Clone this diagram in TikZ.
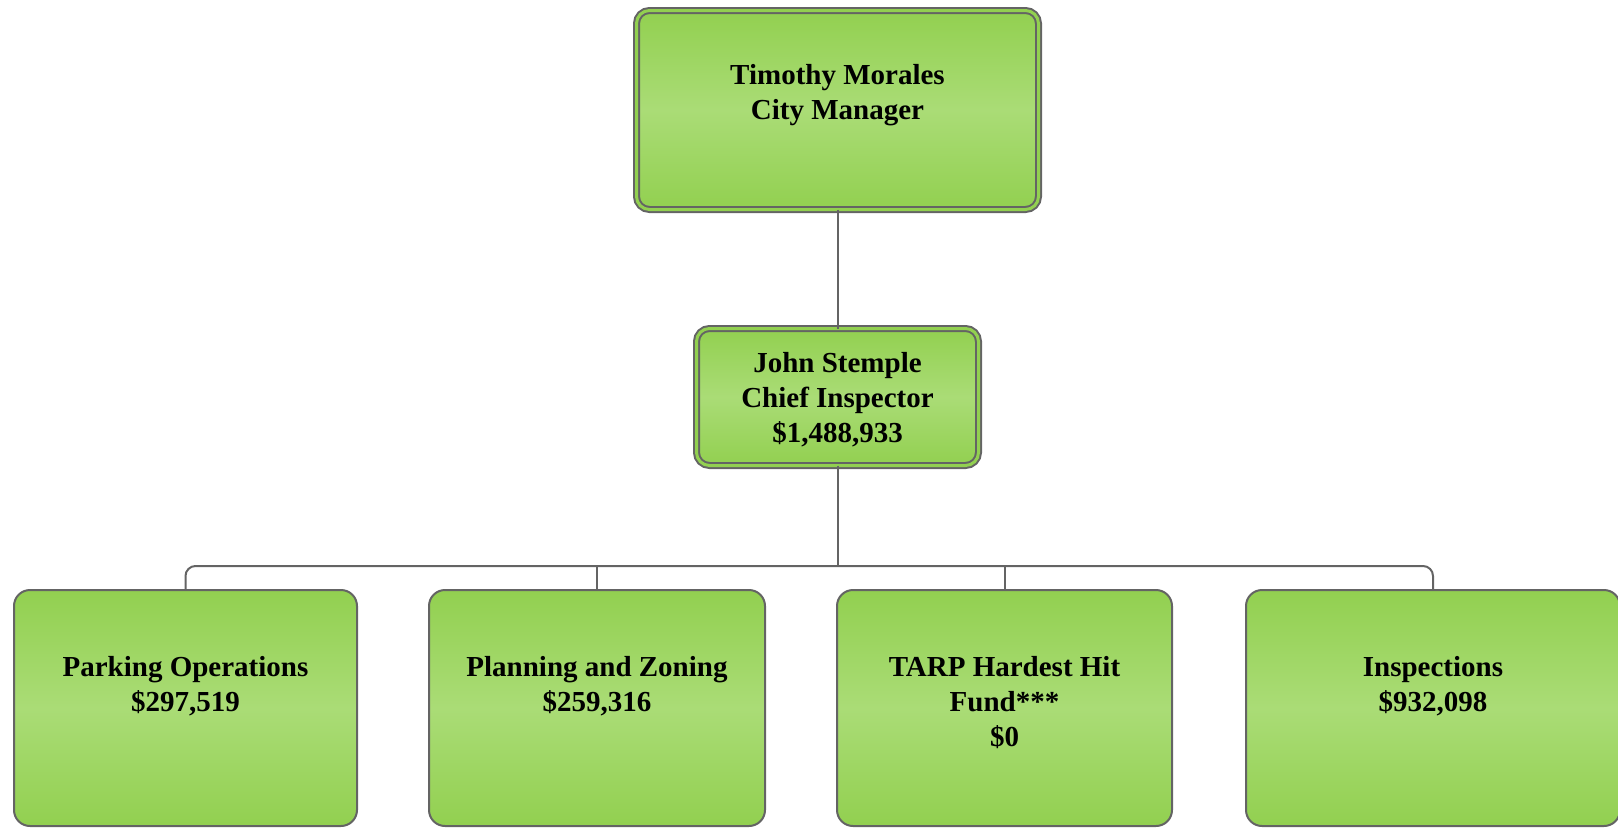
\documentclass[tikz,border=0pt]{standalone}
\usepackage{fontspec}
\setmainfont{Liberation Serif}

\definecolor{boxgreen}{RGB}{146,208,80}
\definecolor{boxlight}{RGB}{170,220,118}
\definecolor{edgegray}{RGB}{100,100,100}

\begin{document}
\begin{tikzpicture}[x=1pt, y=-1pt,
    font=\fontsize{29}{35}\selectfont\bfseries,
    card/.style={draw=edgegray, line width=2pt, rounded corners=16pt,
        top color=boxgreen, bottom color=boxgreen, middle color=boxlight,
        inner sep=0pt, outer sep=0pt, align=center},
    headcard/.style={card, rounded corners=13pt,
        double=boxgreen, double distance=3pt},
    cardtext/.style={anchor=north, align=center, inner sep=0pt},
    link/.style={draw=edgegray, line width=2pt}]

    \useasboundingbox (0, 0) rectangle (1618, 828);

    % top of the chart
    \node [headcard, minimum width=402pt, minimum height=199pt,
        label={[cardtext, yshift=-54pt]north:{Timothy Morales\\City Manager}}]
        (manager) at (837.5, 110) {};

    \node [headcard, minimum width=282pt, minimum height=137pt,
        label={[cardtext, yshift=-24pt]north:{John Stemple\\Chief Inspector\\\$1,488,933}}]
        (chief) at (837.5, 397) {};

    % the four divisions
    \node [card, minimum width=343pt, minimum height=236pt,
        label={[cardtext, yshift=-66pt]north:{Parking Operations\\\$297,519}}]
        (parking) at (185.5, 708) {};
    \node [card, minimum width=336pt, minimum height=236pt,
        label={[cardtext, yshift=-66pt]north:{Planning and Zoning\\\$259,316}}]
        (planning) at (597, 708) {};
    \node [card, minimum width=335pt, minimum height=236pt,
        label={[cardtext, yshift=-66pt]north:{TARP Hardest Hit\\Fund***\\\$0}}]
        (tarp) at (1004.5, 708) {};
    \node [card, minimum width=374pt, minimum height=236pt,
        label={[cardtext, yshift=-66pt]north:{Inspections\\\$932,098}}]
        (inspect) at (1433, 708) {};

    % connectors
    \coordinate (bus) at (837.5, 566);
    \draw [link] (manager.south) -- (chief.north);
    \draw [link] (chief.south) -- (chief.south |- bus);
    \draw [link, rounded corners=10pt] (parking.north) |- (bus) -| (inspect.north);
    \foreach \n in {planning, tarp}
        { \draw [link] (\n.north) -- (\n.north |- bus); }

\end{tikzpicture}
\end{document}
